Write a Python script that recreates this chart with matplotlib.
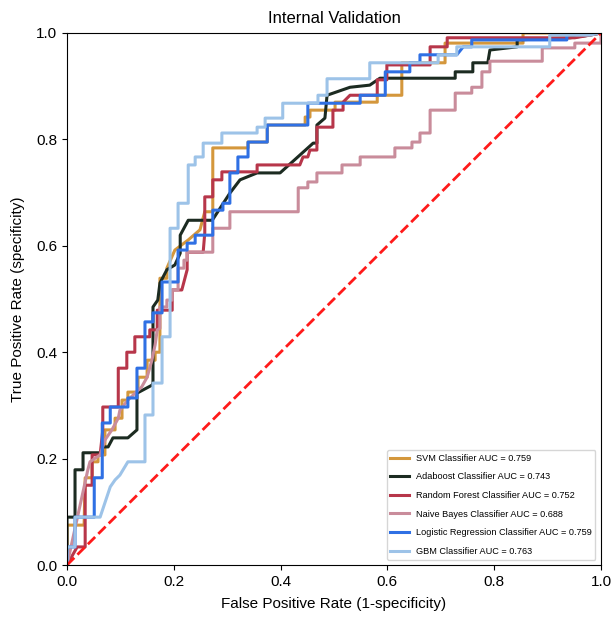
import matplotlib
matplotlib.use("Agg")
import matplotlib.pyplot as plt

plt.rcParams['font.family'] = ['Liberation Sans', 'DejaVu Sans']

# ROC curve vertices (false positive rate, true positive rate)
svm_fpr = [0, 0, 0.032, 0.034, 0.047, 0.047, 0.058, 0.058, 0.071, 0.071, 0.090, 0.090, 0.103, 0.103,
           0.114, 0.114, 0.133, 0.133, 0.150, 0.150, 0.165, 0.165, 0.174, 0.174, 0.187, 0.187, 0.202,
           0.227, 0.249, 0.258, 0.273, 0.273, 0.339, 0.339, 0.375, 0.375, 0.446, 0.446, 0.455, 0.455,
           0.502, 0.502, 0.581, 0.581, 0.627, 0.627, 0.708, 0.708, 0.854, 0.854, 1.0]
svm_tpr = [0, 0.075, 0.075, 0.164, 0.164, 0.194, 0.194, 0.207, 0.207, 0.254, 0.254, 0.276, 0.276, 0.310,
           0.310, 0.325, 0.325, 0.353, 0.353, 0.385, 0.385, 0.400, 0.400, 0.539, 0.539, 0.558, 0.592,
           0.611, 0.630, 0.664, 0.664, 0.784, 0.784, 0.795, 0.795, 0.827, 0.827, 0.842, 0.842, 0.855,
           0.855, 0.870, 0.870, 0.883, 0.883, 0.944, 0.944, 0.981, 0.981, 1.0, 1.0]

ada_fpr = [0, 0, 0.015, 0.015, 0.030, 0.030, 0.066, 0.066, 0.077, 0.086, 0.114, 0.131, 0.131, 0.159,
           0.161, 0.161, 0.170, 0.174, 0.187, 0.202, 0.212, 0.212, 0.227, 0.272, 0.305, 0.324, 0.356,
           0.399, 0.461, 0.468, 0.468, 0.483, 0.487, 0.530, 0.567, 0.586, 0.727, 0.727, 0.760, 0.760,
           0.788, 0.792, 0.843, 0.843, 0.942, 0.979, 1.0]
ada_tpr = [0, 0.090, 0.090, 0.179, 0.179, 0.211, 0.211, 0.222, 0.222, 0.239, 0.239, 0.254, 0.323, 0.338,
           0.342, 0.485, 0.498, 0.530, 0.555, 0.564, 0.586, 0.620, 0.648, 0.648, 0.699, 0.724, 0.737,
           0.737, 0.793, 0.793, 0.827, 0.840, 0.883, 0.898, 0.902, 0.915, 0.915, 0.927, 0.927, 0.944,
           0.944, 0.968, 0.974, 0.987, 0.991, 0.996, 1.0]

rf_fpr = [0, 0.019, 0.034, 0.034, 0.047, 0.047, 0.062, 0.067, 0.067, 0.096, 0.096, 0.112, 0.112, 0.127,
          0.127, 0.155, 0.155, 0.169, 0.169, 0.197, 0.197, 0.215, 0.225, 0.225, 0.255, 0.258, 0.258,
          0.273, 0.273, 0.290, 0.290, 0.356, 0.356, 0.436, 0.442, 0.451, 0.455, 0.468, 0.468, 0.498,
          0.498, 0.517, 0.517, 0.530, 0.581, 0.581, 0.599, 0.599, 0.680, 0.680, 0.712, 0.712, 0.951,
          0.979, 1.0]
rf_tpr = [0, 0.034, 0.034, 0.150, 0.150, 0.207, 0.207, 0.254, 0.297, 0.297, 0.370, 0.370, 0.400, 0.400,
          0.429, 0.429, 0.442, 0.442, 0.479, 0.479, 0.517, 0.517, 0.555, 0.588, 0.588, 0.624, 0.692,
          0.692, 0.724, 0.724, 0.739, 0.739, 0.752, 0.752, 0.767, 0.767, 0.780, 0.780, 0.823, 0.823,
          0.855, 0.855, 0.870, 0.883, 0.883, 0.912, 0.912, 0.940, 0.940, 0.974, 0.974, 0.991, 0.991,
          0.996, 1.0]

nb_fpr = [0, 0.039, 0.043, 0.062, 0.071, 0.084, 0.096, 0.099, 0.114, 0.140, 0.150, 0.159, 0.165, 0.169,
          0.174, 0.174, 0.187, 0.187, 0.197, 0.197, 0.208, 0.208, 0.219, 0.219, 0.225, 0.225, 0.273,
          0.273, 0.305, 0.305, 0.433, 0.433, 0.451, 0.451, 0.468, 0.468, 0.515, 0.515, 0.549, 0.549,
          0.614, 0.614, 0.646, 0.646, 0.661, 0.661, 0.680, 0.680, 0.727, 0.727, 0.758, 0.758, 0.777,
          0.777, 0.792, 0.792, 0.890, 0.890, 0.951, 0.951, 1.0, 1.0]
nb_tpr = [0, 0.179, 0.194, 0.207, 0.235, 0.254, 0.276, 0.291, 0.310, 0.335, 0.353, 0.385, 0.414, 0.442,
          0.445, 0.485, 0.485, 0.498, 0.498, 0.517, 0.517, 0.558, 0.558, 0.573, 0.573, 0.588, 0.588,
          0.633, 0.633, 0.664, 0.664, 0.709, 0.709, 0.720, 0.720, 0.737, 0.737, 0.752, 0.752, 0.767,
          0.767, 0.784, 0.784, 0.795, 0.795, 0.812, 0.812, 0.855, 0.855, 0.887, 0.887, 0.898, 0.898,
          0.927, 0.927, 0.947, 0.947, 0.972, 0.972, 0.981, 0.981, 1.0]

lr_fpr = [0, 0, 0.015, 0.015, 0.051, 0.051, 0.066, 0.066, 0.081, 0.081, 0.114, 0.114, 0.131, 0.131,
          0.146, 0.146, 0.161, 0.161, 0.178, 0.178, 0.208, 0.208, 0.225, 0.225, 0.240, 0.240, 0.273,
          0.273, 0.292, 0.292, 0.305, 0.305, 0.320, 0.320, 0.339, 0.339, 0.375, 0.375, 0.451, 0.451,
          0.549, 0.549, 0.596, 0.596, 0.642, 0.642, 0.661, 0.661, 0.730, 0.742, 0.758, 0.758, 0.936,
          0.936, 1.0]
lr_tpr = [0, 0.034, 0.034, 0.090, 0.090, 0.164, 0.164, 0.267, 0.267, 0.297, 0.297, 0.314, 0.314, 0.370,
          0.370, 0.457, 0.457, 0.474, 0.474, 0.532, 0.532, 0.592, 0.592, 0.605, 0.605, 0.620, 0.620,
          0.667, 0.667, 0.680, 0.680, 0.737, 0.737, 0.767, 0.767, 0.795, 0.795, 0.827, 0.827, 0.868,
          0.868, 0.883, 0.883, 0.927, 0.927, 0.944, 0.944, 0.959, 0.959, 0.974, 0.974, 0.987, 0.987,
          1.0, 1.0]

gbm_fpr = [0, 0, 0.015, 0.015, 0.062, 0.081, 0.090, 0.099, 0.114, 0.146, 0.146, 0.161, 0.161, 0.178,
           0.178, 0.193, 0.193, 0.208, 0.208, 0.227, 0.227, 0.240, 0.240, 0.255, 0.255, 0.290, 0.290,
           0.356, 0.356, 0.371, 0.371, 0.404, 0.404, 0.470, 0.470, 0.487, 0.487, 0.567, 0.567, 0.695,
           0.695, 0.730, 0.730, 0.904, 0.904, 0.979, 1.0]
gbm_tpr = [0, 0.034, 0.034, 0.090, 0.090, 0.147, 0.160, 0.169, 0.194, 0.194, 0.282, 0.282, 0.342, 0.342,
           0.429, 0.429, 0.633, 0.633, 0.680, 0.680, 0.752, 0.752, 0.767, 0.767, 0.793, 0.793, 0.812,
           0.812, 0.823, 0.823, 0.840, 0.840, 0.868, 0.868, 0.883, 0.883, 0.914, 0.914, 0.944, 0.944,
           0.959, 0.959, 0.974, 0.974, 0.996, 0.996, 1.0]

names = ['SVM Classifier', 'Adaboost Classifier', 'Random Forest Classifier',
         'Naive Bayes Classifier', 'Logistic Regression Classifier', 'GBM Classifier']
aucs = [0.759, 0.743, 0.752, 0.688, 0.759, 0.763]
colors = ['#D4973C', '#1C2B21', '#B7364A', '#C98C9B', '#2F70E4', '#9DC3E8']

curves = [(svm_fpr, svm_tpr), (ada_fpr, ada_tpr), (rf_fpr, rf_tpr),
          (nb_fpr, nb_tpr), (lr_fpr, lr_tpr), (gbm_fpr, gbm_tpr)]

fig = plt.figure(figsize=(6.12, 6.19), dpi=100)
ax = fig.add_axes([0.1095, 0.0872, 0.8725, 0.8595])

for (fpr, tpr), name, auc, c in zip(curves, names, aucs, colors):
    ax.plot(fpr, tpr, color=c, lw=2.2, label=f'{name} AUC = {auc:.3f}')

ax.plot([0, 1], [0, 1], color='#FF1A1A', lw=2, ls='--')

ax.set_xlim(0, 1)
ax.set_ylim(0, 1)
ax.set_xticks([0, 0.2, 0.4, 0.6, 0.8, 1.0])
ax.set_yticks([0, 0.2, 0.4, 0.6, 0.8, 1.0])
ax.tick_params(labelsize=11)
ax.set_xlabel('False Positive Rate (1-specificity)', fontsize=11, labelpad=6)
ax.set_ylabel('True Positive Rate (specificity)', fontsize=11, labelpad=8)
ax.set_title('Internal Validation', fontsize=12, pad=7)
ax.legend(loc='lower right', fontsize=6.6, labelspacing=1.05, handlelength=2.0,
          borderaxespad=0.6)

fig.savefig('out.png', dpi=100)
